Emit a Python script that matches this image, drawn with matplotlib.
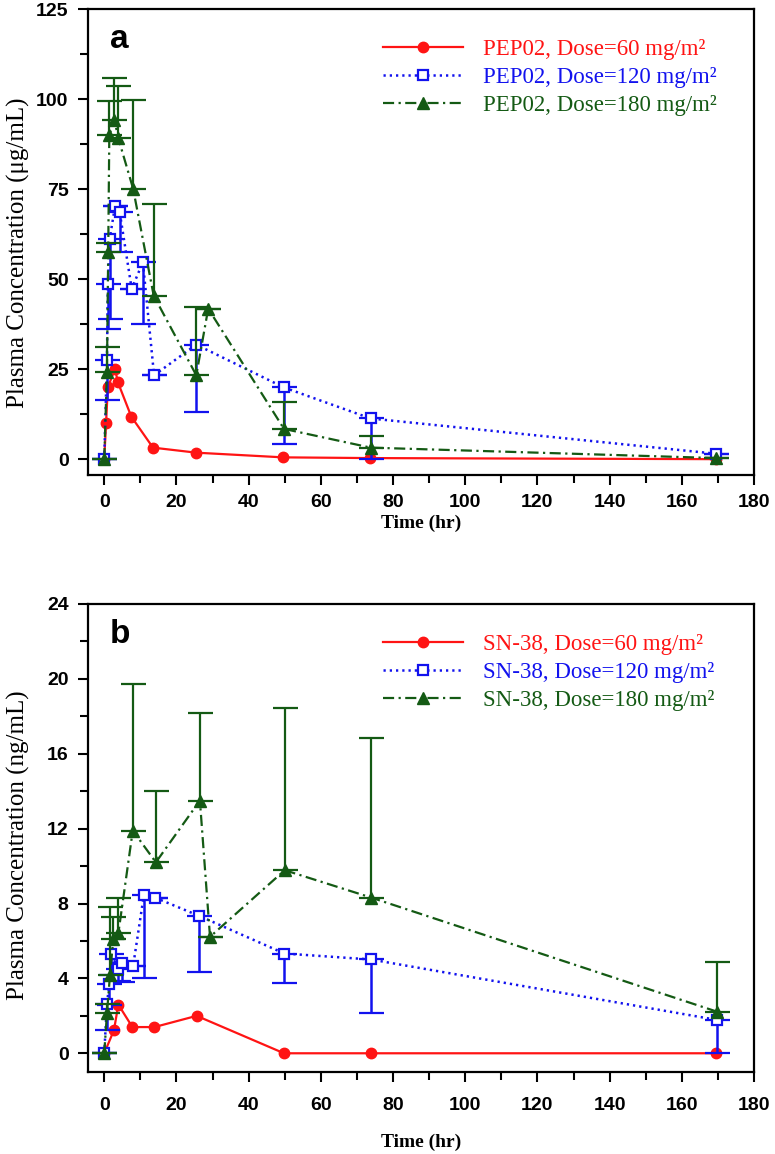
import numpy as np
import matplotlib
matplotlib.use("Agg")
import matplotlib.pyplot as plt
from matplotlib.lines import Line2D
from matplotlib.ticker import MultipleLocator

# ---------------- data: panel a (PEP02, ug/mL) ----------------
red_a_t = [0, 0.5, 1, 3, 3.8, 7.5, 13.5, 25.5, 49.5, 73.5, 169.5]
red_a_v = [0, 10, 20, 25, 21.3, 11.8, 3.2, 1.8, 0.5, 0.3, 0]

blue_a_t = [0, 0.75, 1, 1.5, 3, 4.3, 7.6, 10.7, 13.8, 25.5, 49.8, 73.8, 169.5]
blue_a_v = [0, 27.5, 48.7, 61.1, 70.3, 68.5, 47.3, 54.7, 23.3, 31.8, 19.9, 11.3, 1.5]
blue_a_lo = [0, 11.1, 12.5, 22.1, 0, 11.1, 0, 17.1, 0, 18.6, 15.8, 11.3, 0]

green_a_t = [0, 0.75, 1.1, 1.4, 2.8, 3.9, 8, 13.7, 25.5, 28.8, 49.8, 73.8, 169.5]
green_a_v = [0, 24.3, 57.6, 89.9, 94.3, 89.1, 75.1, 45.4, 23.3, 41.8, 8.4, 3.2, 0.3]
green_a_hi = [0, 6.9, 2.5, 9.5, 11.5, 14.6, 24.7, 25.4, 18.9, 0, 7.6, 3.1, 0]

# ---------------- data: panel b (SN-38, ng/mL) ----------------
red_b_t = [0, 2.7, 3.9, 7.8, 13.9, 25.6, 49.8, 73.8, 169.5]
red_b_v = [0, 1.24, 2.6, 1.4, 1.4, 2.0, 0, 0, 0]

blue_b_t = [0, 0.75, 1.4, 2, 3.9, 4.8, 8, 11, 14, 26.3, 49.9, 73.9, 169.8]
blue_b_v = [0, 2.63, 3.7, 5.3, 4.48, 4.8, 4.66, 8.48, 8.32, 7.34, 5.33, 5.01, 1.78]
blue_b_lo = [0, 1.39, 1.1, 1.1, 0.6, 1.0, 0, 4.48, 0, 2.99, 1.56, 2.88, 1.78]

green_b_t = [0, 0.75, 1.6, 2.5, 3.9, 7.9, 14.3, 26.5, 29.3, 50, 73.9, 169.8]
green_b_v = [0, 2.13, 4.2, 6.08, 6.4, 11.9, 10.2, 13.5, 6.22, 9.78, 8.32, 2.22]
green_b_hi = [0, 0.5, 3.6, 1.2, 1.9, 7.8, 3.8, 4.7, 0, 8.67, 8.5, 2.67]

labels_a = ["PEP02, Dose=60 mg/m²", "PEP02, Dose=120 mg/m²", "PEP02, Dose=180 mg/m²"]
labels_b = ["SN-38, Dose=60 mg/m²", "SN-38, Dose=120 mg/m²", "SN-38, Dose=180 mg/m²"]

RED = "#ff1414"
BLUE = "#1212ee"
GREEN = "#145a14"
SERIF = ["Liberation Serif", "DejaVu Serif"]
SANS = ["Liberation Sans", "DejaVu Sans"]

fig = plt.figure(figsize=(7.75, 11.54), dpi=100)
W, H = 775, 1154


def axes_px(left, top, right, bottom):
    return fig.add_axes([left / W, 1 - bottom / H, (right - left) / W, (bottom - top) / H])


ax_a = axes_px(88, 9, 754, 475)
ax_b = axes_px(88, 604, 754, 1072)

DOT = (0, (0.9, 1.6))
DASHDOT = (0, (5, 2, 1, 2))


def draw(ax, rt, rv, bt, bv, blo, gt, gv, ghi, labels, ylim, ymaj, ymin, ylabel, letter,
         xlpad, xtpad, ylab_y):
    ax.plot(rt, rv, color=RED, lw=1.6, marker="o", ms=7.5, mfc=RED, mec=RED, zorder=3)
    blo_arr = np.array(blo, dtype=float)
    ax.errorbar(bt, bv, yerr=[blo_arr, np.zeros_like(blo_arr)], color=BLUE, lw=1.8,
                ls=DOT, marker="s", ms=7.5, mfc="white", mec=BLUE, mew=1.6,
                ecolor=BLUE, elinewidth=1.8, capsize=9, capthick=1.8, zorder=4)
    ghi_arr = np.array(ghi, dtype=float)
    ax.errorbar(gt, gv, yerr=[np.zeros_like(ghi_arr), ghi_arr], color=GREEN, lw=1.6,
                ls=DASHDOT, marker="^", ms=8.5, mfc=GREEN, mec=GREEN,
                ecolor=GREEN, elinewidth=1.6, capsize=9, capthick=1.6, zorder=5)

    ax.set_xlim(-4.5, 180)
    ax.set_ylim(*ylim)
    ax.xaxis.set_major_locator(MultipleLocator(20))
    ax.xaxis.set_minor_locator(MultipleLocator(10))
    ax.yaxis.set_major_locator(MultipleLocator(ymaj))
    ax.yaxis.set_minor_locator(MultipleLocator(ymin))
    ax.tick_params(which="both", direction="out", width=1.5, top=False, right=False)
    ax.tick_params(which="major", length=7)
    ax.tick_params(which="minor", length=6)
    ax.tick_params(axis="y", which="major", pad=7)
    ax.tick_params(axis="x", which="major", pad=xtpad)
    for lab in ax.get_xticklabels() + ax.get_yticklabels():
        lab.set_fontfamily(SANS)
        lab.set_fontweight("bold")
        lab.set_fontsize(14)
    for s in ax.spines.values():
        s.set_linewidth(1.6)

    ax.set_xlabel("Time (hr)", fontfamily=SERIF, fontweight="bold", fontsize=14, labelpad=xlpad)
    ax.set_ylabel(ylabel, fontfamily=SERIF, fontsize=18)
    ax.yaxis.set_label_coords(-0.087, ylab_y)

    ax.text(0.033, 0.917, letter, transform=ax.transAxes, fontfamily=SANS,
            fontweight="bold", fontsize=24, ha="left", va="baseline")

    handles = [
        Line2D([], [], color=RED, lw=1.6, marker="o", ms=7.5, mfc=RED, mec=RED),
        Line2D([], [], color=BLUE, lw=1.8, ls=DOT, marker="s", ms=7.5, mfc="white", mec=BLUE, mew=1.6),
        Line2D([], [], color=GREEN, lw=1.6, ls=DASHDOT, marker="^", ms=8.5, mfc=GREEN, mec=GREEN),
    ]
    ax.legend(handles, labels, loc="upper left", bbox_to_anchor=(0.443, 0.936),
              frameon=False, borderaxespad=0, borderpad=0, handlelength=3.5,
              handletextpad=0.85, labelspacing=0.3,
              prop={"family": SERIF, "size": 16.5},
              labelcolor=[RED, BLUE, GREEN])


draw(ax_a, red_a_t, red_a_v, blue_a_t, blue_a_v, blue_a_lo, green_a_t, green_a_v, green_a_hi,
     labels_a, (-4.4, 125), 25, 12.5, "Plasma Concentration (μg/mL)", "a", 2, 7, 0.476)
draw(ax_b, red_b_t, red_b_v, blue_b_t, blue_b_v, blue_b_lo, green_b_t, green_b_v, green_b_hi,
     labels_b, (-1, 24), 4, 2, "Plasma Concentration (ng/mL)", "b", 14, 11, 0.485)

fig.savefig("out.png", dpi=100)
